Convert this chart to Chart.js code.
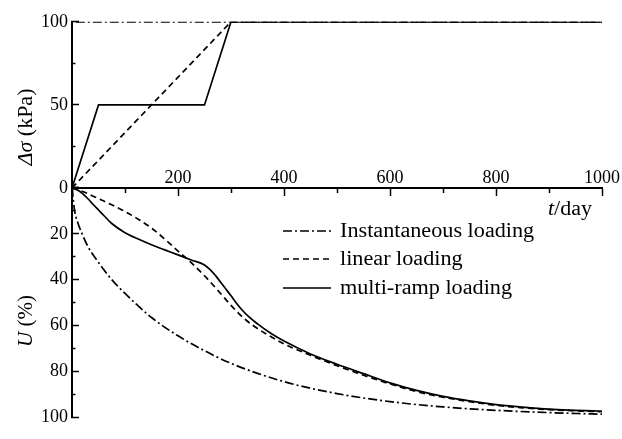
<!DOCTYPE html>
<html>
<head>
<meta charset="utf-8">
<script src="https://cdn.jsdelivr.net/npm/chart.js@4.4.0/dist/chart.umd.min.js"></script>
<style>
html, body { margin: 0; padding: 0; background: #fff; }
#wrap { position: relative; width: 622px; height: 439px; }
canvas { display: block; }
.lbl { position: absolute; font-family: "Liberation Serif", "Times New Roman", serif; color: #000; white-space: nowrap; line-height: 1; }
.ytitle { font-size: 21px; transform: translate(-50%, -50%) rotate(-90deg); }
.row { position: absolute; left: 283px; height: 22px; font-size: 20px; }
.row svg { position: absolute; left: 0; top: 8px; }
.row span { position: absolute; left: 57px; top: 0; transform: scaleX(1.11); transform-origin: left center; }
</style>
</head>
<body>
<div id="wrap">
  <canvas id="chart" width="622" height="439"></canvas>
  <div class="lbl ytitle" style="left:25px; top:127px; font-size:22px;"><i>Δσ</i> (kPa)</div>
  <div class="lbl ytitle" style="left:25px; top:321px;"><i>U</i> (%)</div>
  <div class="lbl" style="right:30px; top:198px; font-size:20px; transform:scaleX(1.1); transform-origin:right center;"><i>t</i>/day</div>
  <div class="lbl row" style="top:220px;">
    <svg width="48" height="6"><line x1="0" y1="3" x2="48" y2="3" stroke="#000" stroke-width="1.3" stroke-dasharray="9 3 2 3"/></svg>
    <span>Instantaneous loading</span>
  </div>
  <div class="lbl row" style="top:248px;">
    <svg width="48" height="6"><line x1="0" y1="3" x2="48" y2="3" stroke="#000" stroke-width="1.3" stroke-dasharray="6 4"/></svg>
    <span>linear loading</span>
  </div>
  <div class="lbl row" style="top:277px;">
    <svg width="48" height="6"><line x1="0" y1="3" x2="48" y2="3" stroke="#000" stroke-width="1.6"/></svg>
    <span>multi-ramp loading</span>
  </div>
</div>
<script>
'use strict';

// load history, Δσ (kPa) against t (day)
const instLoadT = [0, 0, 1000];
const instLoadP = [0, 100, 100];
const linLoadT = [0, 300, 1000];
const linLoadP = [0, 100, 100];
const rampLoadT = [0, 50, 250, 300, 1000];
const rampLoadP = [0, 50, 50, 100, 100];

// degree of consolidation U (%) against t (day)
const instT = [0, 5, 10, 20, 30, 50, 75, 100, 150, 200, 250, 300, 400, 500, 600, 700, 800, 900, 1000];
const instU = [0, 10, 14.5, 20.5, 25.5, 32.5, 40, 46, 56.5, 64.5, 71, 76.5, 84.5, 89.7, 93.2, 95.5, 97, 98, 98.7];

const linT = [0, 20, 40, 60, 80, 100, 125, 150, 175, 200, 225, 250, 275, 300, 325, 350, 375, 400, 450, 500, 550, 600, 650, 700, 750, 800, 850, 900, 950, 1000];
const linU = [0, 1.5, 3.6, 5.7, 7.9, 10.3, 13.6, 17.5, 22.3, 27.5, 32.6, 38.3, 44.6, 51.2, 57, 61.3, 64.8, 68, 73, 77.5, 81.7, 85.5, 88.8, 91.3, 93.2, 94.8, 95.9, 96.7, 97.2, 97.6];

const rampT = [0, 10, 20, 30, 40, 50, 60, 75, 100, 125, 150, 175, 200, 225, 250, 260, 270, 280, 290, 300, 310, 320, 335, 350, 375, 400, 450, 500, 550, 600, 650, 700, 750, 800, 850, 900, 950, 1000];
const rampU = [0, 0.8, 2.5, 4.7, 7.2, 9.6, 12, 15.5, 19.5, 22.3, 24.8, 27, 29.2, 31.4, 33.6, 35.5, 38, 41, 44, 47, 50.2, 53, 56.5, 59.3, 63.4, 66.8, 72.4, 76.9, 81, 85, 88.3, 90.9, 92.9, 94.5, 95.6, 96.5, 97, 97.4];

const DASH_DOT = [9, 3, 2, 3];
const DASHED = [6, 4];
const FONT = { family: "'Liberation Serif', 'Times New Roman', serif", size: 18 };

function pts(xs, ys) {
    return xs.map((x, i) => ({ x: x, y: ys[i] }));
}

function line(label, xs, ys, axis, dash, smooth) {
    return {
        label: label,
        data: pts(xs, ys),
        yAxisID: axis,
        borderColor: '#000',
        borderWidth: 1.7,
        borderDash: dash,
        pointRadius: 0,
        fill: false,
        tension: 0,
        cubicInterpolationMode: smooth ? 'monotone' : 'default'
    };
}

// short dash keeps only the part of the tick next to the axis line
function tickDash(isMajor, inward) {
    if (isMajor) return [];
    return inward ? [0, 3.5, 4, 40] : [4, 40];
}

function yScale(opts) {
    return Object.assign({
        type: 'linear',
        position: 'left',
        stack: 'v',
        min: 0,
        max: 100,
        border: { color: '#000', width: 2 },
        afterFit: s => { s.width = 72; }
    }, opts);
}

new Chart(document.getElementById('chart').getContext('2d'), {
    type: 'line',
    data: {
        datasets: [
            line('Instantaneous loading', instLoadT, instLoadP, 'yS', DASH_DOT, false),
            line('linear loading', linLoadT, linLoadP, 'yS', DASHED, false),
            line('multi-ramp loading', rampLoadT, rampLoadP, 'yS', [], false),
            line('Instantaneous loading', instT, instU, 'yU', DASH_DOT, true),
            line('linear loading', linT, linU, 'yU', DASHED, true),
            line('multi-ramp loading', rampT, rampU, 'yU', [], true)
        ]
    },
    options: {
        responsive: false,
        animation: false,
        devicePixelRatio: 1,
        layout: { padding: { left: 0, right: 20, top: 14, bottom: 11 } },
        plugins: { legend: { display: false }, tooltip: { enabled: false } },
        scales: {
            x: {
                type: 'linear',
                min: 0,
                max: 1000,
                position: { yS: 0 },
                border: { color: '#000', width: 2 },
                grid: {
                    drawOnChartArea: false,
                    tickLength: 7,
                    tickColor: '#000',
                    tickWidth: 1.5,
                    tickBorderDash: c => tickDash(c.tick && c.tick.value % 200 === 0, false)
                },
                ticks: {
                    stepSize: 100,
                    padding: -28,
                    color: '#000',
                    font: FONT,
                    maxRotation: 0,
                    autoSkip: false,
                    callback: v => (v % 200 === 0 && v > 0) ? v : ''
                }
            },
            yU: yScale({
                weight: 0,
                stackWeight: 240,
                reverse: true,
                grid: {
                    drawOnChartArea: false, tickLength: -7, tickColor: '#000', tickWidth: 1.5,
                    tickBorderDash: c => tickDash(c.tick && c.tick.value % 20 === 0, true)
                },
                ticks: {
                    color: '#000', font: FONT, padding: 11, autoSkip: false, stepSize: 10,
                    callback: v => (v % 20 === 0 && v > 0) ? v : ''
                }
            }),
            yS: yScale({
                weight: 1,
                stackWeight: 174,
                grid: {
                    drawOnChartArea: false, tickLength: -7, tickColor: '#000', tickWidth: 1.5,
                    tickBorderDash: c => tickDash(c.tick && c.tick.value % 50 === 0, true)
                },
                ticks: {
                    color: '#000', font: FONT, padding: 11, autoSkip: false, stepSize: 25,
                    callback: v => v % 50 === 0 ? v : ''
                }
            })
        }
    }
});
</script>
</body>
</html>
